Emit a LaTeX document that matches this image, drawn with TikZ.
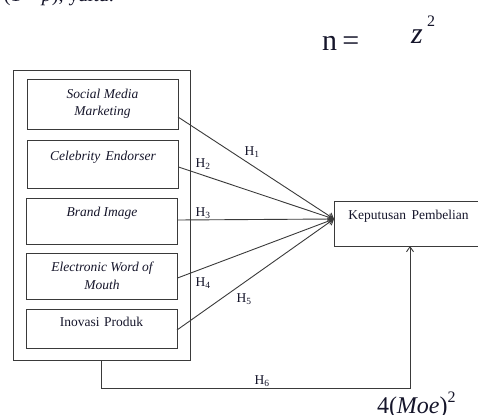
\documentclass[tikz,border=0pt]{standalone}
\usepackage{fontspec}
\setmainfont{Liberation Serif}
\usetikzlibrary{arrows.meta,calc}
\definecolor{ln}{HTML}{3A3A3A}
\definecolor{tx}{HTML}{15152A}
\begin{document}
\begin{tikzpicture}[x=1pt,y=-1pt,
  every node/.style={inner sep=0pt,outer sep=0pt,text=tx},
  frame/.style={draw=ln,line width=0.9pt,rectangle},
  vbox/.style={frame,minimum width=151pt,anchor=north,font=\fontsize{13.5}{18.5}\selectfont\itshape,align=center},
  hyp/.style={font=\fontsize{13.5}{15}\selectfont},
  conn/.style={draw=ln,line width=0.9pt,-{Straight Barb[length=5pt,width=7pt]}},
  big/.style={font=\fontsize{30}{34}\selectfont}
]
\useasboundingbox (0,0) rectangle (478,414);
\clip (0,0) rectangle (478,414);

% cut-off text at top
\node[anchor=base west,font=\fontsize{20}{22}\selectfont] (top) at (4,1.5) {(1 − \textit{p}), yaitu:};

% outer frame
\node[frame,minimum width=177pt,minimum height=290pt] (outer) at (101.5,215) {};

% variable boxes
\node[vbox,minimum height=50pt] (b1) at (102.5,79) {Social Media\\[-1pt]Marketing};
\node[vbox,text height=20pt,text depth=28pt] (b2) at (103,140) {Celebrity\hspace{0.4em}Endorser};
\node[vbox,text height=18pt,text depth=28pt] (b3) at (102,198) {Brand Image};
\node[vbox,minimum height=46pt] (b4) at (102,253) {Electronic Word of\\[-1pt]Mouth};
\node[vbox,text height=17pt,text depth=22pt,font=\fontsize{13.5}{18}\selectfont] (b5) at (101.5,309) {Inovasi\hspace{0.35em}Produk};

% dependent box
\node[frame,minimum width=149pt,text height=18pt,text depth=27pt,anchor=north west,font=\fontsize{13.5}{18}\selectfont] (k) at (334,201) {Keputusan\hspace{0.4em}Pembelian};

% connectors
\draw[conn] ([yshift=-13pt]b1.east) -- ([yshift=4.5pt]k.west);
\draw[conn] ([yshift=-3pt]b2.east) -- ([yshift=4.5pt]k.west);
\draw[conn] ([yshift=1pt]b3.east) -- ([yshift=4.5pt]k.west);
\draw[conn] ([yshift=-2pt]b4.east) -- ([yshift=4.5pt]k.west);
\draw[conn] ([yshift=-1.5pt]b5.east) -- ([yshift=4.5pt]k.west);
\draw[conn] (outer.south) -- ++(0,28) -| ([xshift=1.5pt]k.south);

% hypothesis labels
\node[hyp] (h1) at (252,152) {H\textsubscript{1}};
\node[hyp] (h2) at (203,164) {H\textsubscript{2}};
\node[hyp] (h3) at (203,213) {H\textsubscript{3}};
\node[hyp] (h4) at (203,283) {H\textsubscript{4}};
\node[hyp] (h5) at (244,299) {H\textsubscript{5}};
\node[hyp] (h6) at (262,381) {H\textsubscript{6}};

% formula fragments
\node[big,anchor=base west] (n) at (322,51) {n\hspace{0.18em}=};
\node[big,anchor=base west] (z) at (411,44) {\textit{z}};
\node[anchor=base west,font=\fontsize{16}{18}\selectfont] (z2) at (427,27) {2};
\node[anchor=base west,font=\fontsize{24}{26}\selectfont] (moe) at (377,413) {4(\textit{Moe})\raisebox{0.45em}{\fontsize{16}{17}\selectfont 2}};
\end{tikzpicture}
\end{document}
